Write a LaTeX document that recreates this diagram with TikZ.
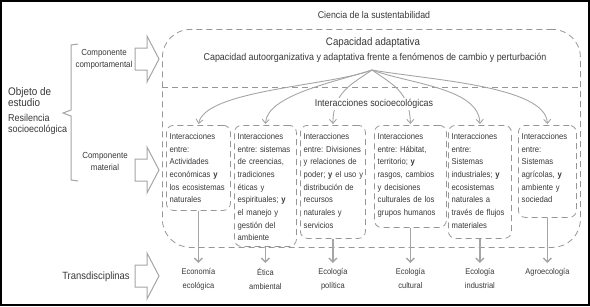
\documentclass[tikz,border=0pt]{standalone}
\usepackage{fontspec}
\setmainfont{Liberation Sans}[FakeStretch=0.9]
\usetikzlibrary{arrows.meta}
\definecolor{inkgray}{RGB}{55,55,55}
\definecolor{linegray}{RGB}{165,165,165}
\definecolor{boxgray}{RGB}{150,150,150}

% hollow block arrow centred at #1
\newcommand{\blockarrow}[1]{%
  \draw[blockarr, shift={(#1)}] (-12,-11) -- (0,-11) -- (0,-23) -- (12,0)
    -- (0,23) -- (0,11) -- (-12,11) -- cycle;}

\begin{document}
\frenchspacing
\begin{tikzpicture}[x=1pt, y=-1pt,
    txt/.style={text=inkgray, inner sep=1pt, align=center},
    dashbox/.style={draw=boxgray, line width=0.8pt, dash pattern=on 6pt off 4pt},
    interbox/.style={dashbox, rounded corners=7pt, anchor=north west, inner sep=0pt},
    intertext/.style={txt, anchor=north west, align=left, text width=#1,
      inner xsep=3.5pt, inner ysep=8pt, font=\fontsize{8.5}{12.7}\selectfont},
    fanarr/.style={draw=linegray, line width=0.9pt,
      -{Straight Barb[length=4pt,width=7pt]}, shorten >=1pt},
    downarr/.style={draw=linegray, line width=1.4pt,
      -{Straight Barb[length=4pt,width=8pt]}},
    blockarr/.style={draw=linegray, line width=1pt, fill=white, line join=miter},
    lowlabel/.style={txt, anchor=north, font=\fontsize{8.3}{14}\selectfont},
  ]
  \useasboundingbox (0,0) rectangle (590,306);
  \draw[black, line width=1.5pt] (1,1) rectangle (589,305);

  % frame of the sustainability science
  \node[txt, font=\fontsize{9.8}{12}\selectfont] (cienc) at (374,15) {Ciencia de la sustentabilidad};
  \node[dashbox, rounded corners=28pt, anchor=north west, inner sep=0pt,
    minimum width=418pt, minimum height=218pt] (ciencbox) at (162,29) {};
  \draw[dashbox] (162,87) -- (580,87);

  \node[txt, font=\fontsize{10.8}{13}\selectfont] (capad) at (373,43) {Capacidad adaptativa};
  \node[txt, font=\fontsize{9.9}{12}\selectfont] (capdesc) at (375,58)
    {Capacidad autoorganizativa y adaptativa frente a fenómenos de cambio y perturbación};
  \coordinate (fan) at (372,70);

  % boxes of interactions
  \node[interbox, minimum width=64pt, minimum height=85pt] (b1) at (166,125) {};
  \node[interbox, minimum width=62pt, minimum height=121pt] (b2) at (234,125) {};
  \node[interbox, minimum width=65pt, minimum height=113pt] (b3) at (300,125) {};
  \node[interbox, minimum width=72pt, minimum height=102pt] (b4) at (374,125) {};
  \node[interbox, minimum width=63pt, minimum height=113pt] (b5) at (448,125) {};
  \node[interbox, minimum width=58pt, minimum height=92pt] (b6) at (518,125) {};

  \node[intertext=57pt] (t1) at (b1.north west)
    {Interacciones\\entre:\\Actividades\\económicas \textbf{y}\\los ecosistemas\\naturales};
  \node[intertext=55pt] (t2) at (b2.north west)
    {Interacciones\\entre: sistemas\\de creencias,\\tradiciones\\éticas y\\espirituales; \textbf{y}\\el manejo y\\gestión del\\ambiente};
  \node[intertext=60pt] (t3) at (b3.north west)
    {Interacciones\\entre: Divisiones\\y relaciones de\\poder; \textbf{y} el uso y\\distribución de\\recursos\\naturales y\\servicios};
  \node[intertext=65pt] (t4) at (b4.north west)
    {Interacciones\\entre: Hábitat,\\territorio; \textbf{y}\\rasgos, cambios\\y decisiones\\culturales de los\\grupos humanos};
  \node[intertext=56pt] (t5) at (b5.north west)
    {Interacciones\\entre:\\Sistemas\\industriales; \textbf{y}\\ecosistemas\\naturales a\\través de flujos\\materiales};
  \node[intertext=51pt] (t6) at (b6.north west)
    {Interacciones\\entre:\\Sistemas\\agrícolas, \textbf{y}\\ambiente y\\sociedad};

  % fan of interactions
  \draw[fanarr] (fan) .. controls (330,86) and (205,90) .. (b1.north);
  \draw[fanarr] (fan) .. controls (335,82) and (267,95) .. (b2.north);
  \draw[fanarr] (fan) .. controls (352,84) and (333,92) .. (b3.north);
  \draw[fanarr] (fan) .. controls (392,84) and (410,92) .. (b4.north);
  \draw[fanarr] (fan) .. controls (410,84) and (479,88) .. (b5.north);
  \draw[fanarr] (fan) .. controls (430,80) and (546,86) .. (b6.north);
  \node[txt, fill=white, font=\fontsize{9.9}{12}\selectfont] (intsoc) at (374,104)
    {Interacciones socioecológicas};

  % transdisciplines
  \coordinate (tipline) at (0,263);
  \coordinate (labline) at (0,267);
  \node[lowlabel] (d1) at (b1.south |- labline) {Economía\\ecológica};
  \node[lowlabel] (d2) at (b2.south |- labline) {Ética\\ambiental};
  \node[lowlabel] (d3) at (b3.south |- labline) {Ecología\\política};
  \node[lowlabel] (d4) at (b4.south |- labline) {Ecología\\cultural};
  \node[lowlabel] (d5) at (b5.south |- labline) {Ecología\\industrial};
  \node[lowlabel] (d6) at (b6.south |- labline) {Agroecología};
  \draw[downarr] (b1.south) -- (b1.south |- tipline);
  \draw[downarr] (b2.south) -- (b2.south |- tipline);
  \draw[downarr] (b3.south) -- (b3.south |- tipline);
  \draw[downarr] (b4.south) -- (b4.south |- tipline);
  \draw[downarr] (b5.south) -- (b5.south |- tipline);
  \draw[downarr] (b6.south) -- (b6.south |- tipline);

  % left side
  \node[txt, anchor=west, align=left, font=\fontsize{11}{10.5}\selectfont] (objeto) at (7,97)
    {Objeto de\\estudio};
  \node[txt, anchor=west, align=left, font=\fontsize{10}{11}\selectfont] (resil) at (7,124)
    {Resilencia\\socioecológica};
  \draw[linegray, line width=1pt] (78,44) -- (71,45) -- (71,110) -- (63,113) -- (71,116)
    -- (71,180) -- (78,181);
  \node[txt, font=\fontsize{8.8}{12}\selectfont] (compc) at (104,59) {Componente\\comportamental};
  \node[txt, font=\fontsize{8.8}{12}\selectfont] (compm) at (105,161) {Componente\\material};
  \node[txt, font=\fontsize{10.5}{12}\selectfont] (transd) at (96,277) {Transdisciplinas};
  \blockarrow{147,59}
  \blockarrow{147,170}
  \blockarrow{147,276}
\end{tikzpicture}
\end{document}
